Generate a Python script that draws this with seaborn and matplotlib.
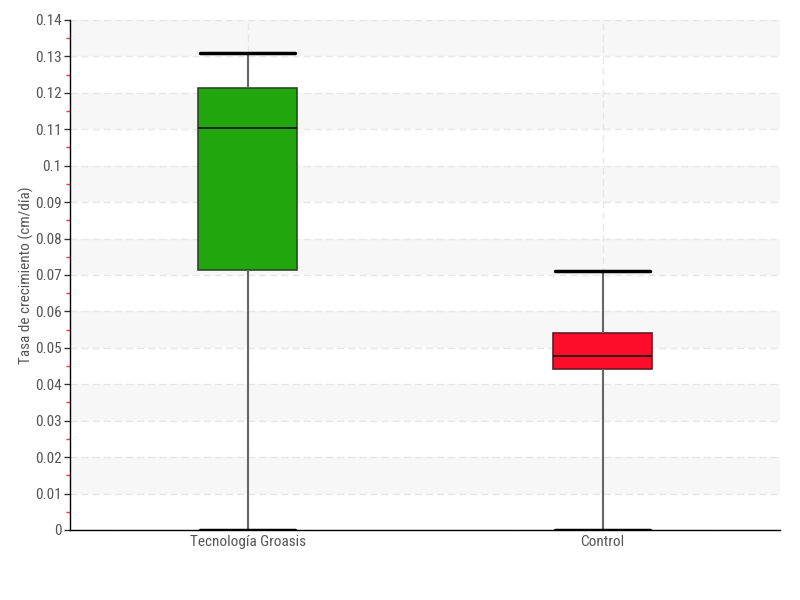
import matplotlib
matplotlib.use("Agg")
import matplotlib.pyplot as plt
import seaborn as sns
import pandas as pd
import numpy as np
from matplotlib.ticker import MultipleLocator, FuncFormatter
from matplotlib import font_manager

categories = ["Tecnología Groasis", "Control"]
# five-number summaries: min, q1, median, q3, max
groasis_vals = [0.0, 0.0714, 0.1103, 0.1213, 0.1309]
control_vals = [0.0, 0.0442, 0.0478, 0.0541, 0.0711]
colors = ["#22A60E", "#FE0D2B"]
edge_colors = ["#2b4a26", "#6a1a24"]

df = pd.DataFrame({
    "grupo": [categories[0]] * len(groasis_vals) + [categories[1]] * len(control_vals),
    "tasa": groasis_vals + control_vals,
})

sns.set_style("white")
names = {f.name for f in font_manager.fontManager.ttflist}
fam = []
for cand in ["Roboto Condensed", "Liberation Sans Narrow", "DejaVu Sans"]:
    if cand in names:
        fam.append(cand)
plt.rcParams['font.family'] = fam + ['DejaVu Sans']
plt.rcParams['font.stretch'] = 'condensed'

fig = plt.figure(figsize=(8, 6), dpi=100)
ax = fig.add_axes([0.0875, 0.1167, 0.8875, 0.85])

# alternating bands
for k in range(7):
    lo = (2 * k + 1) * 0.01
    ax.axhspan(lo, lo + 0.01, color="#F7F7F7", zorder=0, lw=0)

sns.boxplot(data=df, x="grupo", y="tasa", order=categories, hue="grupo",
            palette=colors, legend=False, whis=(0, 100), width=0.28,
            linewidth=1.2, ax=ax,
            whiskerprops=dict(color="#666666", linewidth=1.5),
            capprops=dict(color="black", linewidth=2.5),
            medianprops=dict(color="#1a1a1a", linewidth=1.3),
            showfliers=False, saturation=1)

boxes = [p for p in ax.patches]
for p, ec in zip(boxes[-2:], edge_colors):
    p.set_edgecolor(ec)
for line in ax.lines:
    xd = line.get_xdata()
    yd = line.get_ydata()
    if len(xd) == 2 and yd[0] == yd[1] and abs(xd[1] - xd[0]) > 0.1 and (yd[0] in (0.0, 0.1309, 0.0711)):
        c = np.mean(xd)
        line.set_xdata([c - 0.134, c + 0.134])

ax.set_xlim(-0.5, 1.5)
ax.set_ylim(0, 0.14)
ax.yaxis.set_major_locator(MultipleLocator(0.01))
ax.yaxis.set_minor_locator(MultipleLocator(0.005))

def fmt(v, pos):
    s = f"{v:.2f}".rstrip("0").rstrip(".")
    return s
ax.yaxis.set_major_formatter(FuncFormatter(fmt))

ax.grid(True, which="major", axis="y", color="#E6E6E6", linestyle=(0, (5, 3)), lw=1)
ax.grid(True, which="major", axis="x", color="#E6E6E6", linestyle=(0, (5, 3)), lw=1)
ax.set_axisbelow(True)

for s in ["top", "right"]:
    ax.spines[s].set_visible(False)
ax.spines["left"].set_color("black")
ax.spines["bottom"].set_color("black")
ax.spines["left"].set_linewidth(1)
ax.spines["bottom"].set_linewidth(1)

ax.tick_params(axis="y", which="major", left=True, length=4, width=1, color="#333333",
               labelsize=11, labelcolor="#555555", pad=2)
ax.tick_params(axis="y", which="minor", left=True, length=3, width=1, color="#FF3333")
ax.tick_params(axis="x", which="both", bottom=False, labelsize=11, labelcolor="#555555", pad=0)

ax.set_xlabel("")
ax.set_ylabel("Tasa de crecimiento (cm/día)", fontsize=11, color="#555555")
ax.yaxis.set_label_coords(-0.05, 0.5)

fig.savefig("out.png", dpi=100)
